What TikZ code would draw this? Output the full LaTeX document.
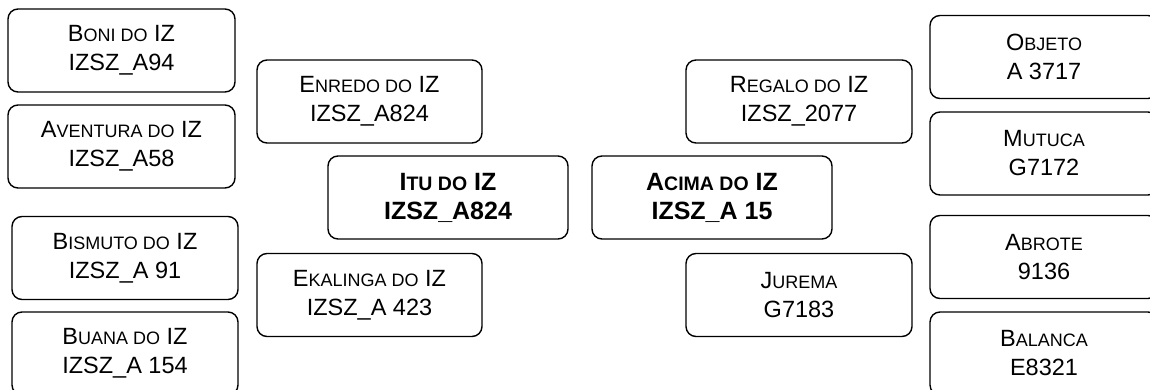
\documentclass[tikz,border=0pt]{standalone}
\usepackage{fontspec}
\setmainfont{Liberation Sans}
\newcommand\smr[1]{{\fontsize{18}{29}\selectfont\MakeUppercase{#1}}}
\newcommand\smb[1]{{\fontsize{19.5}{29}\selectfont\MakeUppercase{#1}}}
\tikzset{
  box/.style={draw, line width=1.4pt, rounded corners=10pt, minimum height=83pt,
    inner sep=0pt, align=center, font=\fontsize{23.5}{29}\selectfont},
  bbox/.style={box, font=\fontsize{25}{29}\selectfont\bfseries},
}
\begin{document}
\begin{tikzpicture}[x=1pt,y=-1pt]
\useasboundingbox (0,0) rectangle (1150,390);
\clip (0,0) rectangle (1150,390);
% left column
\node[box, minimum width=227pt] (boni) at (121.5,50.5) {B\smr{oni do} IZ\\IZSZ\_A94};
\node[box, minimum width=227pt] (aventura) at (121.5,146.5) {A\smr{ventura do} IZ\\IZSZ\_A58};
\node[box, minimum width=226pt] (bismuto) at (125,258) {B\smr{ismuto do} IZ\\IZSZ\_A 91};
\node[box, minimum width=226pt] (buana) at (125,353.5) {B\smr{uana do} IZ\\IZSZ\_A 154};
% middle left
\node[box, minimum width=225pt] (enredo) at (369.5,101.5) {E\smr{nredo do} IZ\\IZSZ\_A824};
\node[bbox, minimum width=240pt] (itu) at (448,197.5) {I\smb{tu do} IZ\\IZSZ\_A824};
\node[box, minimum width=225pt] (ekalinga) at (369.5,295) {E\smr{kalinga do} IZ\\IZSZ\_A 423};
% middle right
\node[box, minimum width=226pt] (regalo) at (799,101.5) {R\smr{egalo do} IZ\\IZSZ\_2077};
\node[bbox, minimum width=240pt] (acima) at (712,197.5) {A\smb{cima do} IZ\\IZSZ\_A 15};
\node[box, minimum width=226pt] (jurema) at (799,295) {J\smr{urema}\\G7183};
% right column
\node[box, minimum width=228pt] (objeto) at (1044,57) {O\smr{bjeto}\\A 3717};
\node[box, minimum width=228pt] (mutuca) at (1044,153.5) {M\smr{utuca}\\G7172};
\node[box, minimum width=228pt] (abrote) at (1044,257) {A\smr{brote}\\9136};
\node[box, minimum width=228pt] (balanca) at (1044,353.5) {B\smr{alanca}\\E8321};
\end{tikzpicture}
\end{document}
